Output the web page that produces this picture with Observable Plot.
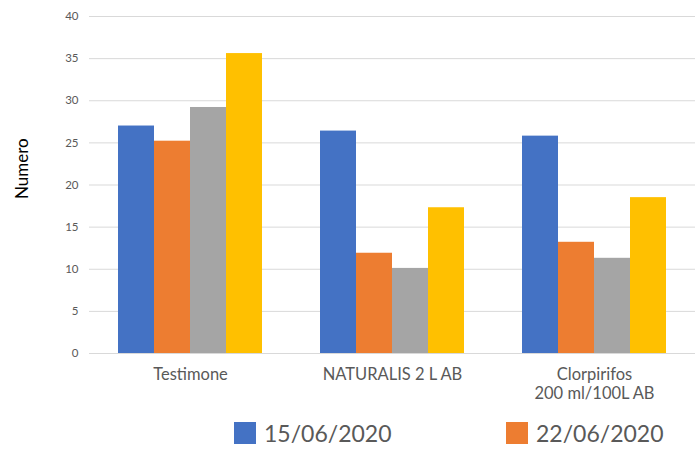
<!DOCTYPE html>
<html>
<head>
<meta charset="utf-8">
<script src="https://cdn.jsdelivr.net/npm/d3@7"></script>
<script src="https://cdn.jsdelivr.net/npm/@observablehq/plot@0.6"></script>
<style>
  body { margin: 0; background: #fff; font-family: Lato, "Open Sans", sans-serif; }
  #chart { width: 696px; }
  .legend { position: relative; height: 41px; width: 696px; }
  .item { position: absolute; top: 12px; display: flex; align-items: center; color: #595959; font-size: 23px; line-height: 22px; }
  .sw { width: 22px; height: 22px; margin-right: 8px; }
</style>
</head>
<body>
<div id="chart"></div>
<script>
const categories = ["Testimone", "NATURALIS 2 L AB", "Clorpirifos\n200 ml/100L AB"];
const series = ["15/06/2020", "22/06/2020", "Serie 3", "Serie 4"];
const colors = ["#4472c4", "#ed7d31", "#a5a5a5", "#ffc000"];
const s1 = [27.0, 26.4, 25.8];
const s2 = [25.2, 11.9, 13.2];
const s3 = [29.2, 10.1, 11.3];
const s4 = [35.6, 17.3, 18.5];
const yTicks = [0, 5, 10, 15, 20, 25, 30, 35, 40];
const legendSeries = ["15/06/2020", "22/06/2020"];

const allValues = [s1, s2, s3, s4];
const data = [];
categories.forEach((c, i) => {
  series.forEach((s, j) => data.push({category: c, series: s, value: allValues[j][i]}));
});

const chart = Plot.plot({
  width: 696,
  height: 410,
  marginLeft: 88,
  marginRight: 0,
  marginTop: 16,
  marginBottom: 57,
  style: {fontFamily: "Lato, 'Open Sans', sans-serif", background: "#fff"},
  fx: {domain: categories, padding: 0, label: null},
  x: {domain: series, paddingInner: 0, paddingOuter: 0.743, axis: null},
  y: {domain: [0, 40], label: null},
  color: {domain: series, range: colors},
  marks: [
    Plot.gridY(yTicks, {stroke: "#d9d9d9", strokeOpacity: 1, strokeWidth: 1}),
    Plot.barY(data, {fx: "category", x: "series", y: "value", fill: "series"}),
    Plot.axisY(yTicks, {tickSize: 0, tickPadding: 11, fontSize: 11.5, fill: "#595959", label: null}),
    Plot.axisFx({anchor: "bottom", tickSize: 0, tickPadding: 14, fontSize: 16.5, fill: "#595959", lineAnchor: "top", lineHeight: 1.1, label: null}),
    Plot.text(["Numero"], {frameAnchor: "left", dx: -67, dy: 14, rotate: -90, fontSize: 17, fill: "#000", facetAnchor: "left"})
  ]
});
document.getElementById("chart").appendChild(chart);

const legend = document.createElement("div");
legend.className = "legend";
const lefts = [234, 506];
legendSeries.forEach((s, i) => {
  const it = document.createElement("div");
  it.className = "item";
  it.style.left = lefts[i] + "px";
  const sw = document.createElement("div");
  sw.className = "sw";
  sw.style.background = colors[series.indexOf(s)];
  const t = document.createElement("span");
  t.textContent = s;
  it.appendChild(sw);
  it.appendChild(t);
  legend.appendChild(it);
});
document.getElementById("chart").appendChild(legend);
</script>
</body>
</html>
